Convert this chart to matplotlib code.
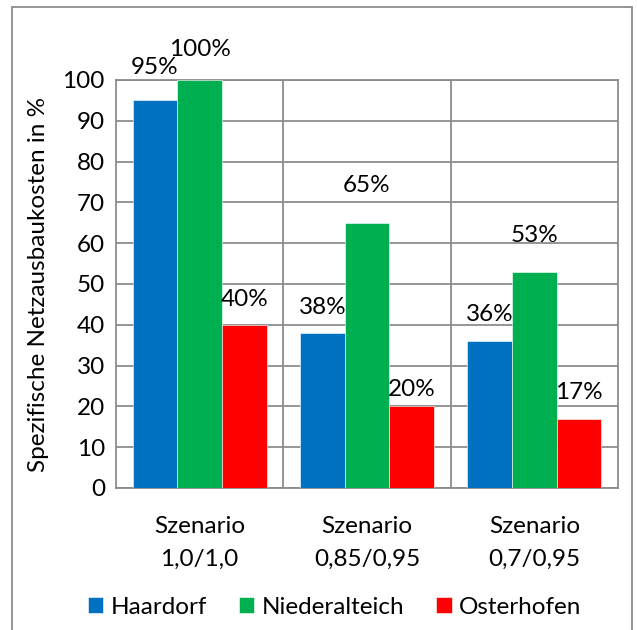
import matplotlib
matplotlib.use("Agg")
import matplotlib.pyplot as plt
import numpy as np
from matplotlib.patches import Rectangle

categories = ["Szenario\n1,0/1,0", "Szenario\n0,85/0,95", "Szenario\n0,7/0,95"]
series_names = ["Haardorf", "Niederalteich", "Osterhofen"]
haardorf = [95, 38, 36]
niederalteich = [100, 65, 53]
osterhofen = [40, 20, 17]
yticks = [0, 10, 20, 30, 40, 50, 60, 70, 80, 90, 100]
ylabel = "Spezifische Netzausbaukosten in %"

colors = ["#0070C0", "#00B050", "#FF0000"]
# label offsets above bar tops (pixels), to mimic the manual placement
label_offsets_px = [[25, 18, 19], [23, 30, 29], [18, 9, 18]]

plt.rcParams['font.family'] = ['Lato', 'DejaVu Sans']
FS = 17.5

fig = plt.figure(figsize=(6.37, 6.30), dpi=100)
ax = fig.add_axes([116/637, 1-488/630, (618-116)/637, (488-80)/630])

x = np.arange(len(categories))
w = 0.8/3
data = [haardorf, niederalteich, osterhofen]
for i, (vals, name, c) in enumerate(zip(data, series_names, colors)):
    xs = x + (i-1)*w
    ax.bar(xs, vals, width=w, color=c, label=name, zorder=3,
           edgecolor="#ffffff", linewidth=0.4)
    for j, (xx, v) in enumerate(zip(xs, vals)):
        ax.annotate(f"{v}%", (xx, v), xytext=(0, label_offsets_px[i][j]*0.72 - 2),
                    textcoords="offset points", ha="center", va="bottom",
                    fontsize=FS, color="black", zorder=4)

ax.set_xlim(-0.5, 2.5)
ax.set_ylim(0, 100)
ax.set_yticks(yticks)
ax.set_yticklabels([str(t) for t in yticks], fontsize=FS)
ax.set_xticks(x)
ax.set_xticklabels(categories, fontsize=FS, linespacing=1.7)
ax.tick_params(axis='both', length=0, pad=8)
ax.tick_params(axis='x', pad=20)
ax.yaxis.grid(True, color="#8c8c8c", linewidth=1.3, zorder=0)
for b in [0.5, 1.5]:
    ax.axvline(b, color="#8c8c8c", linewidth=1.3, zorder=0)
for s in ax.spines.values():
    s.set_color("#8c8c8c")
    s.set_linewidth(1.3)
ax.set_ylabel(ylabel, fontsize=FS, labelpad=10)

fig.legend(loc="center", bbox_to_anchor=(334.5/637, 1-607/630), ncol=3, frameon=False,
           fontsize=FS, handlelength=0.65, handleheight=0.65, handletextpad=0.3,
           columnspacing=1.3)

fig.patches.append(Rectangle((12/637, -0.05), (632-12)/637, 1.05-7/630, transform=fig.transFigure,
                             fill=False, edgecolor="#8c8c8c", linewidth=1.3))

fig.savefig("out.png", dpi=100)
